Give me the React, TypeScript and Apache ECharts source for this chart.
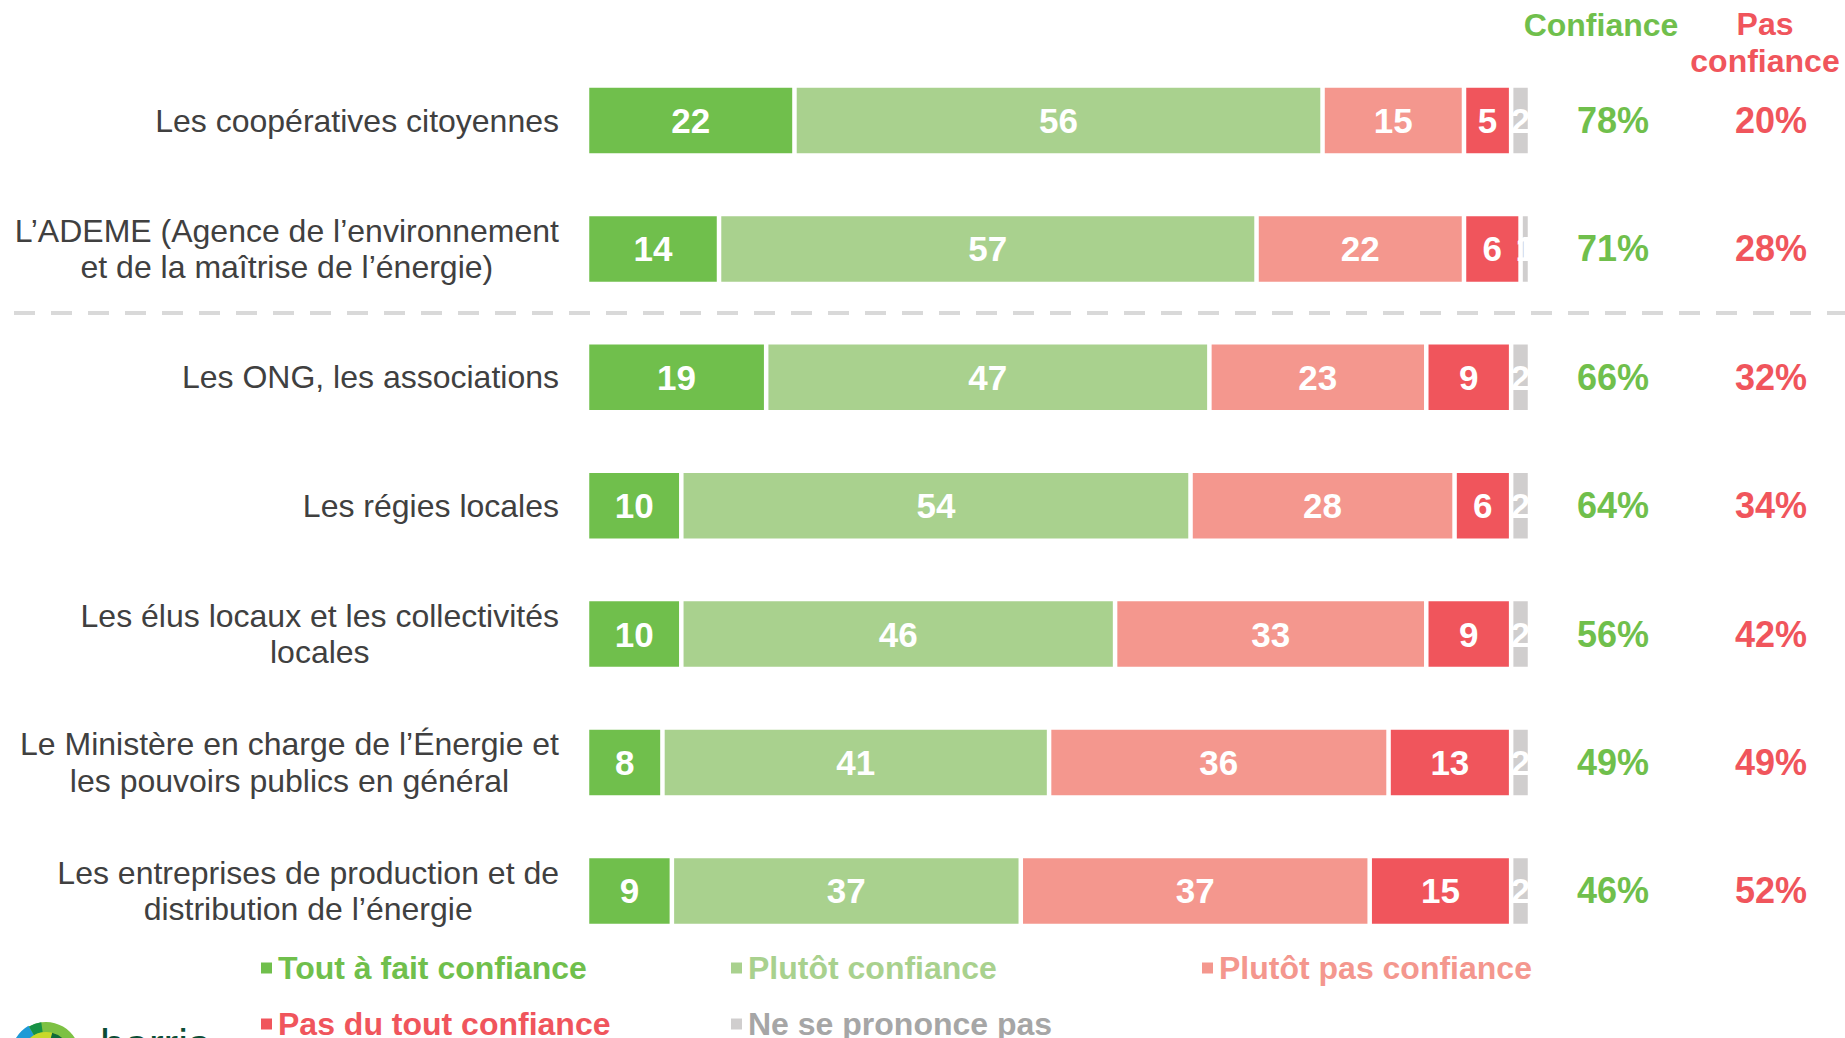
import React, { useEffect, useRef } from "react";
import * as echarts from "echarts";

const categories = [
  "Les coopératives citoyennes",
  "L’ADEME (Agence de l’environnement\net de la maîtrise de l’énergie)",
  "Les ONG, les associations",
  "Les régies locales",
  "Les élus locaux et les collectivités\nlocales",
  "Le Ministère en charge de l’Énergie et\nles pouvoirs publics en général",
  "Les entreprises de production et de\ndistribution de l’énergie",
];
const toutAFait = [22, 14, 19, 10, 10, 8, 9];
const plutot = [56, 57, 47, 54, 46, 41, 37];
const plutotPas = [15, 22, 23, 28, 33, 36, 37];
const pasDuTout = [5, 6, 9, 6, 9, 13, 15];
const nsp = [2, 1, 2, 2, 2, 2, 2];
const confianceTotal = [78, 71, 66, 64, 56, 49, 46];
const pasConfianceTotal = [20, 28, 32, 34, 42, 49, 52];

const seriesNames = [
  "Tout à fait confiance",
  "Plutôt confiance",
  "Plutôt pas confiance",
  "Pas du tout confiance",
  "Ne se prononce pas",
];
const seriesValues = [toutAFait, plutot, plutotPas, pasDuTout, nsp];
const seriesColors = ["#70BF4C", "#A9D18E", "#F4978E", "#F0555C", "#D0CECE"];
const legendTextColors = ["#70BF4C", "#A9D18E", "#F4978E", "#F0555C", "#A6A6A6"];
const headerConfiance = "Confiance";
const headerPasConfiance = "Pas\nconfiance";
const logoText = "harris";

const FONT = "'Liberation Sans', Arial, sans-serif";
const GREEN = "#70BF4C";
const RED = "#F0555C";

export default function App() {
  const ref = useRef<HTMLDivElement>(null);

  useEffect(() => {
    const chart = echarts.init(ref.current!, null, { renderer: "svg" });

    const legendPos = [
      [259, 952],
      [729, 952],
      [1200, 952],
      [259, 1008],
      [729, 1008],
    ];

    const option: any = {
      animation: false,
      backgroundColor: "#ffffff",
      grid: { left: 587, right: 315, top: 56.3, bottom: 82.9 },
      xAxis: { type: "value", min: 0, max: 100, show: false },
      yAxis: [
        {
          type: "category",
          data: categories,
          inverse: true,
          position: "left",
          axisLine: { show: false },
          axisTick: { show: false },
          splitLine: { show: false },
          axisLabel: {
            interval: 0,
            margin: 28,
            fontSize: 32,
            fontFamily: FONT,
            color: "#404040",
            formatter: (v: string) => `{c|${v}}`,
            rich: {
              c: {
                align: "center",
                fontSize: 32,
                lineHeight: 36.5,
                fontFamily: FONT,
                color: "#404040",
              },
            },
          },
        },
        {
          type: "category",
          data: categories,
          inverse: true,
          position: "right",
          axisLine: { show: false },
          axisTick: { show: false },
          splitLine: { show: false },
          axisLabel: {
            interval: 0,
            margin: 23,
            fontSize: 36,
            fontFamily: FONT,
            formatter: (_v: string, i: number) =>
              `{g|${confianceTotal[i]}%}{r|${pasConfianceTotal[i]}%}`,
            rich: {
              g: {
                width: 120,
                align: "center",
                fontSize: 36,
                fontWeight: "bold",
                fontFamily: FONT,
                color: GREEN,
              },
              r: {
                width: 196,
                align: "center",
                fontSize: 36,
                fontWeight: "bold",
                fontFamily: FONT,
                color: RED,
              },
            },
          },
        },
      ],
      legend: seriesNames.map((name, i) => ({
        data: [name],
        left: legendPos[i][0],
        top: legendPos[i][1],
        padding: 0,
        icon: "rect",
        itemWidth: 13,
        itemHeight: 13,
        selectedMode: false,
        textStyle: {
          fontSize: 32,
          fontWeight: "bold",
          fontFamily: FONT,
          color: legendTextColors[i],
        },
      })),
      series: seriesNames.map((name, i) => ({
        name,
        type: "bar",
        stack: "total",
        yAxisIndex: 0,
        barWidth: 70,
        data: seriesValues[i],
        itemStyle: {
          color: seriesColors[i],
          borderColor: "#ffffff",
          borderWidth: 2.25,
        },
        label: {
          show: true,
          position: "inside",
          color: "#ffffff",
          fontSize: 35,
          fontWeight: "bold",
          fontFamily: FONT,
          formatter: "{c}",
        },
      })),
      graphic: [
        {
          type: "line",
          shape: { x1: 14, y1: 313, x2: 1845, y2: 313 },
          style: { stroke: "#D9D9D9", lineWidth: 4, lineDash: [21, 16] },
          silent: true,
        },
        {
          type: "text",
          x: 1601,
          y: 25,
          style: {
            text: headerConfiance,
            fill: GREEN,
            fontSize: 32,
            fontWeight: "bold",
            fontFamily: FONT,
            align: "center",
            verticalAlign: "middle",
          },
        },
        {
          type: "text",
          x: 1765,
          y: 42,
          style: {
            text: headerPasConfiance,
            fill: RED,
            fontSize: 32,
            lineHeight: 37,
            fontWeight: "bold",
            fontFamily: FONT,
            align: "center",
            verticalAlign: "middle",
          },
        },
        // logo (partially cut off at the bottom)
        {
          type: "circle",
          shape: { cx: 46, cy: 1056, r: 34 },
          style: { fill: "#7DC143" },
        },
        {
          type: "sector",
          shape: {
            cx: 46,
            cy: 1056,
            r: 35,
            r0: 24,
            startAngle: (205 * Math.PI) / 180,
            endAngle: (240 * Math.PI) / 180,
          },
          style: { fill: "#1E9AD6" },
        },
        {
          type: "sector",
          shape: {
            cx: 46,
            cy: 1056,
            r: 34,
            r0: 24,
            startAngle: (240 * Math.PI) / 180,
            endAngle: (262 * Math.PI) / 180,
          },
          style: { fill: "#169245" },
        },
        {
          type: "circle",
          shape: { cx: 46, cy: 1056, r: 24 },
          style: { fill: "#C8D92B" },
        },
        {
          type: "sector",
          shape: {
            cx: 46,
            cy: 1056,
            r: 24,
            r0: 10,
            startAngle: (285 * Math.PI) / 180,
            endAngle: (345 * Math.PI) / 180,
          },
          style: { fill: "#0E6B3A" },
        },
        {
          type: "text",
          x: 100,
          y: 1044,
          style: {
            text: logoText,
            fill: "#0B4D35",
            fontSize: 44,
            fontFamily: FONT,
            align: "left",
            verticalAlign: "middle",
          },
        },
      ],
    };

    chart.setOption(option);
    return () => chart.dispose();
  }, []);

  return (
    <div
      ref={ref}
      style={{
        position: "fixed",
        left: 0,
        top: 0,
        width: 1845,
        height: 1038,
        background: "#ffffff",
      }}
    />
  );
}
